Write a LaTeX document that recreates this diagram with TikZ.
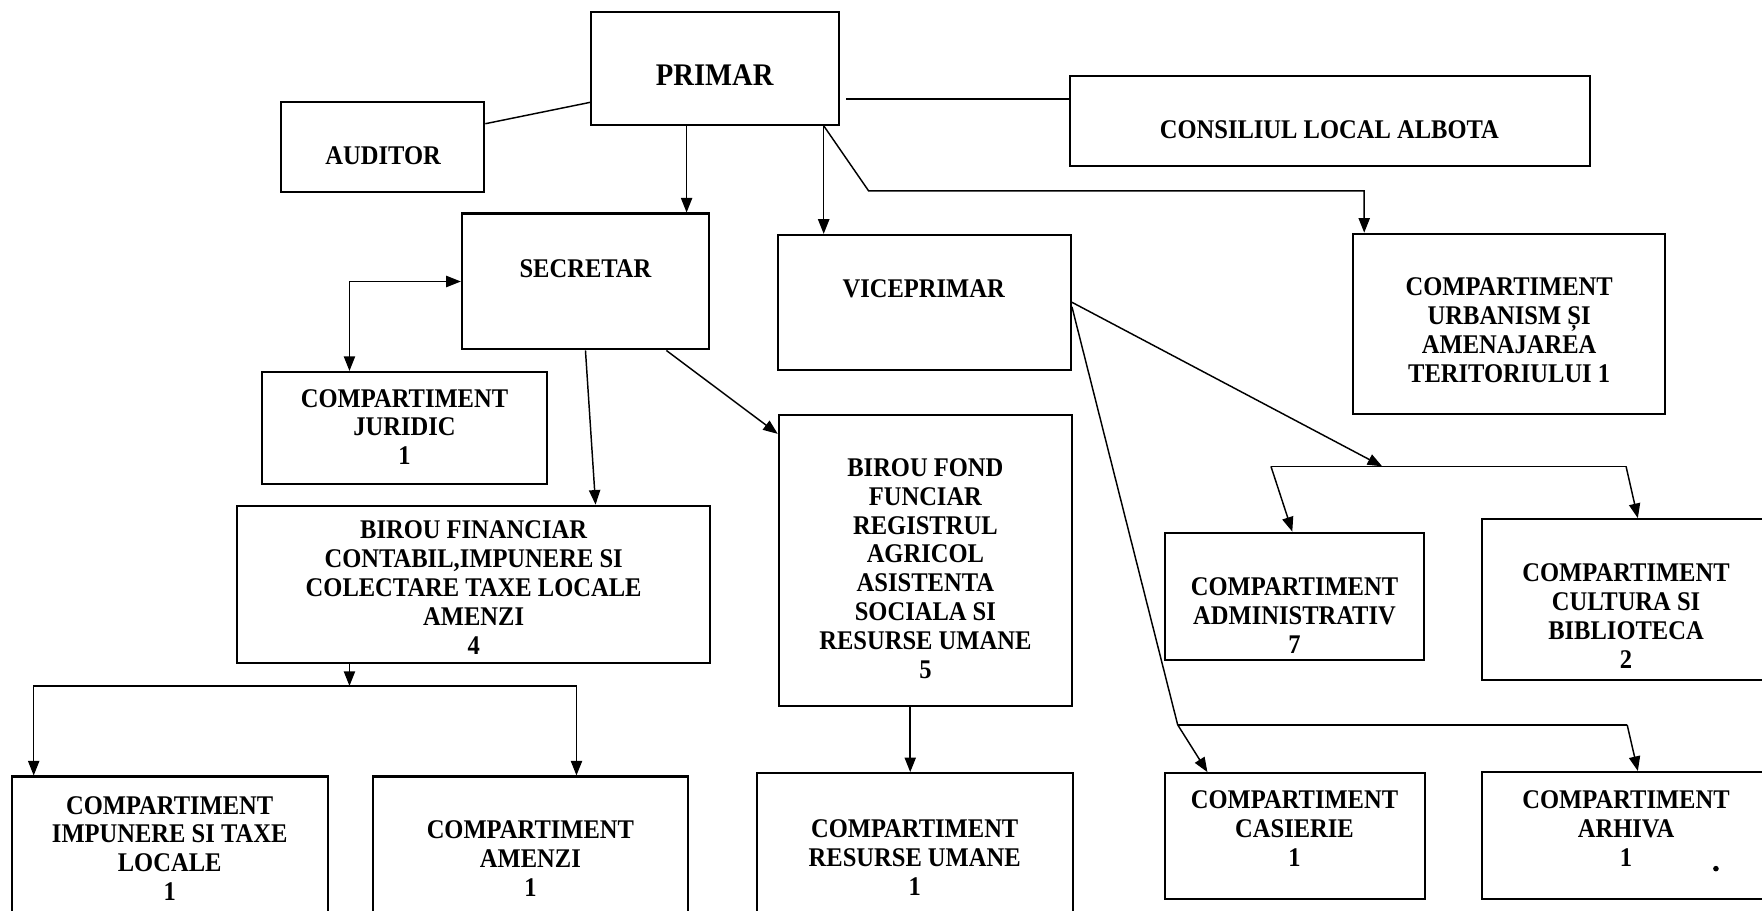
\documentclass[tikz,border=0pt]{standalone}
\usepackage{fontspec}
\setmainfont{Liberation Serif}[FakeStretch=0.91]
\usetikzlibrary{arrows.meta}
\begin{document}
\begin{tikzpicture}[x=1pt,y=-1pt,
  box/.style={draw, line width=1.8pt, inner sep=0pt},
  lbl/.style={font=\fontsize{24}{25.7}\selectfont\bfseries, align=center, inner sep=0pt},
  big/.style={font=\fontsize{28}{30}\selectfont\bfseries, inner sep=0pt},
  con/.style={line width=1.3pt},
  arr/.style={con, -{Triangle[length=13pt,width=10pt]}},
  dbl/.style={con, {Triangle[length=13pt,width=10pt]}-{Triangle[length=13pt,width=10pt]}},
]
\useasboundingbox (0,0) rectangle (1568,810);
\fill[white] (0,0) rectangle (1568,810);
\clip (0,0) rectangle (1568,810);

% boxes and texts
\node[box,minimum width=221pt,minimum height=100pt] (primar) at (636.5,61) {};
\node[big] (primarT) at (636,67) {PRIMAR};
\node[box,minimum width=181pt,minimum height=80pt] (auditor) at (340.5,131) {};
\node[lbl] (auditorT) at (341,139) {AUDITOR};
\node[box,minimum width=463pt,minimum height=80pt] (consiliul) at (1183.5,108) {};
\node[lbl] (consiliulT) at (1183,115) {CONSILIUL LOCAL ALBOTA};
\node[box,minimum width=220pt,minimum height=121pt] (secretar) at (521,250.5) {};
\node[lbl] (secretarT) at (521,239) {SECRETAR};
\node[box,minimum width=261pt,minimum height=120pt] (viceprimar) at (822.5,269) {};
\node[lbl] (viceprimarT) at (822,257) {VICEPRIMAR};
\node[box,minimum width=278pt,minimum height=160pt] (urbanism) at (1343,288) {};
\node[lbl] (urbanismT) at (1343,294) {COMPARTIMENT\\URBANISM ȘI\\AMENAJAREA\\TERITORIULUI 1};
\node[box,minimum width=254pt,minimum height=100pt] (juridic) at (360,381) {};
\node[lbl] (juridicT) at (360,380) {COMPARTIMENT\\JURIDIC\\1};
\node[box,minimum width=421pt,minimum height=140pt] (financiar) at (421.5,520) {};
\node[lbl] (financiarT) at (421.5,523) {BIROU FINANCIAR\\CONTABIL,IMPUNERE SI\\COLECTARE TAXE LOCALE\\AMENZI\\4};
\node[box,minimum width=261pt,minimum height=259pt] (fond) at (823.5,498.5) {};
\node[lbl] (fondT) at (823.5,506) {BIROU FOND\\FUNCIAR\\REGISTRUL\\AGRICOL\\ASISTENTA\\SOCIALA SI\\RESURSE UMANE\\5};
\node[box,minimum width=281pt,minimum height=140pt] (impunere) at (151.5,761) {};
\node[lbl] (impunereT) at (151,755) {COMPARTIMENT\\IMPUNERE SI TAXE\\LOCALE\\1};
\node[box,minimum width=280pt,minimum height=140pt] (amenzi) at (472,761) {};
\node[lbl] (amenziT) at (472,764) {COMPARTIMENT\\AMENZI\\1};
\node[box,minimum width=281pt,minimum height=142pt] (resurse) at (814.5,759) {};
\node[lbl] (resurseT) at (814,763) {COMPARTIMENT\\RESURSE UMANE\\1};
\node[box,minimum width=230pt,minimum height=113pt] (administrativ) at (1152,530.5) {};
\node[lbl] (administrativT) at (1152,548) {COMPARTIMENT\\ADMINISTRATIV\\7};
\node[box,minimum width=261pt,minimum height=143pt] (cultura) at (1449.5,533.5) {};
\node[lbl] (culturaT) at (1447,548) {COMPARTIMENT\\CULTURA SI\\BIBLIOTECA\\2};
\node[box,minimum width=231pt,minimum height=112pt] (casierie) at (1152.5,744) {};
\node[lbl] (casierieT) at (1152,737) {COMPARTIMENT\\CASIERIE\\1};
\node[box,minimum width=261pt,minimum height=113pt] (arhiva) at (1449.5,743.5) {};
\node[lbl] (arhivaT) at (1447,737) {COMPARTIMENT\\ARHIVA\\1};
\fill (1527,773) circle (2.5pt);

% connectors
\draw[con] ([yshift=-20pt]auditor.north east) -- ([yshift=-81pt]primar.north west);
\coordinate (pc) at ([xshift=5pt,yshift=-78pt]primar.north east);
\draw[con] (pc) -- (pc -| consiliul.west);
\draw[arr] ([xshift=-25.5pt]primar.south) -- ([xshift=-25.5pt]primar.south |- secretar.north);
\draw[arr] ([xshift=96.5pt]primar.south) -- ([xshift=96.5pt]primar.south |- viceprimar.north);
\draw[arr] ([xshift=96.5pt]primar.south) -- ++(40,58) -| ([xshift=-129pt]urbanism.north);
\draw[dbl] (secretar.west) -| ([xshift=-49pt]juridic.north);
\draw[arr] (secretar.south) -- ([xshift=108.5pt]financiar.north);
\draw[arr] ([xshift=72pt]secretar.south) -- ([yshift=-18pt]fond.north west);
\coordinate (fbus) at ([xshift=-110.5pt,yshift=-19.5pt]financiar.south);
\draw[arr] ([xshift=-110.5pt]financiar.south) -- (fbus);
\draw[arr] (fbus) -| ([xshift=-121.5pt]impunere.north);
\draw[arr] (fbus) -| ([xshift=41pt]amenzi.north);
\draw[arr] ([xshift=-13.5pt]fond.south) -- ([xshift=-13.5pt]fond.south |- resurse.north);
\coordinate (vb) at (1230,415);
\coordinate (vbL) at (1131,415);
\coordinate (vbR) at (1447,415);
\draw[arr] (viceprimar.east) -- (vb);
\draw[con] (vbL) -- (vbR);
\draw[arr] (vbL) -- ([xshift=-2pt]administrativ.north);
\draw[arr] (vbR) -- ([xshift=8pt]cultura.north);
\coordinate (cb) at (1048,645);
\coordinate (cbR) at (1448,645);
\draw[con] ([yshift=-4pt]viceprimar.east) -- (cb);
\draw[con] (cb) -- (cbR);
\draw[arr] (cb) -- ([xshift=-78pt]casierie.north);
\draw[arr] (cbR) -- ([xshift=8pt]arhiva.north);
\end{tikzpicture}
\end{document}
